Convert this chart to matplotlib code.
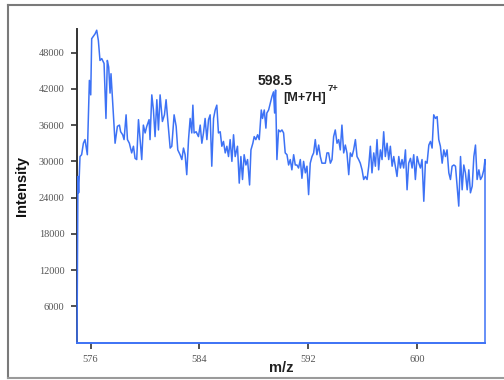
import matplotlib
matplotlib.use("Agg")
import matplotlib.pyplot as plt
from matplotlib.lines import Line2D

mz = [575.00, 575.07, 575.12, 575.22, 575.34, 575.47, 575.59, 575.76, 575.91, 576.01,
      576.08, 576.33, 576.45, 576.57, 576.69, 576.82, 576.99, 577.13, 577.23, 577.33,
      577.43, 577.50, 577.60, 577.80, 577.97, 578.12, 578.21, 578.36, 578.46, 578.61,
      578.71, 578.85, 579.02, 579.15, 579.27, 579.39, 579.52, 579.64, 579.76, 579.88,
      580.01, 580.13, 580.30, 580.37, 580.50, 580.62, 580.74, 580.87, 580.99, 581.11,
      581.28, 581.43, 581.55, 581.67, 581.85, 581.97, 582.14, 582.29, 582.41, 582.58,
      582.71, 582.83, 582.95, 583.07, 583.20, 583.32, 583.44, 583.52, 583.61, 583.76,
      583.93, 584.06, 584.18, 584.30, 584.42, 584.55, 584.67, 584.79, 584.91, 585.04,
      585.16, 585.28, 585.40, 585.53, 585.65, 585.77, 585.90, 586.02, 586.14, 586.26,
      586.39, 586.51, 586.63, 586.80, 586.93, 587.05, 587.17, 587.29, 587.42, 587.54,
      587.69, 587.79, 587.93, 588.03, 588.15, 588.28, 588.40, 588.55, 588.64, 588.77,
      588.89, 588.96, 589.09, 589.21, 589.33, 589.45, 589.53, 589.60, 589.70, 589.82,
      589.94, 590.07, 590.19, 590.31, 590.44, 590.56, 590.68, 590.80, 590.93, 591.05,
      591.17, 591.29, 591.42, 591.54, 591.66, 591.79, 591.91, 592.03, 592.15, 592.28,
      592.40, 592.52, 592.64, 592.77, 592.89, 593.01, 593.13, 593.26, 593.38, 593.50,
      593.63, 593.75, 593.87, 593.99, 594.12, 594.24, 594.36, 594.48, 594.61, 594.73,
      594.85, 594.98, 595.10, 595.22, 595.34, 595.47, 595.59, 595.71, 595.83, 595.96,
      596.08, 596.20, 596.33, 596.45, 596.57, 596.69, 596.82, 596.94, 597.06, 597.18,
      597.31, 597.43, 597.55, 597.67, 597.80, 597.92, 598.04, 598.17, 598.29, 598.41,
      598.53, 598.66, 598.78, 598.90, 599.02, 599.15, 599.27, 599.39, 599.52, 599.64,
      599.76, 599.88, 600.01, 600.13, 600.25, 600.37, 600.50, 600.62, 600.74, 600.87,
      600.99, 601.11, 601.23, 601.36, 601.48, 601.60, 601.72, 601.85, 601.97, 602.09,
      602.21, 602.34, 602.46, 602.58, 602.71, 602.83, 602.95, 603.07, 603.20, 603.32,
      603.44, 603.56, 603.69, 603.81, 603.93, 604.06, 604.18, 604.30, 604.42, 604.55,
      604.67, 604.79, 604.91, 605.00, 605.00]

intensity = [0, 27500, 24800, 30800, 31100, 33000, 33600, 31100, 43400, 41000,
             50300, 51100, 51700, 50000, 46700, 47000, 46200, 37100, 46700, 45600,
             41300, 44500, 40700, 33000, 35800, 36000, 34900, 34400, 33600, 37700,
             33600, 33000, 31400, 32500, 30500, 30300, 36900, 33600, 30300, 36000,
             34700, 35800, 36900, 33600, 41000, 38500, 34100, 40200, 35200, 41000,
             36600, 37700, 40200, 36900, 32200, 32500, 37700, 35800, 31900, 31100,
             30300, 32200, 31100, 27800, 33600, 37100, 34700, 39300, 34700, 34900,
             34100, 36000, 33000, 34700, 37100, 33600, 36900, 37700, 29200, 37100,
             38500, 39300, 34700, 34900, 32500, 33300, 31400, 32500, 30800, 33600,
             30000, 34400, 30800, 32500, 26400, 30800, 27000, 31100, 29400, 30300,
             26100, 31900, 33000, 34100, 33600, 34400, 33600, 38500, 37100, 38500,
             35500, 38000, 38500, 39600, 40700, 41500, 38000, 41800, 30300, 35200,
             34900, 35200, 34700, 31400, 31100, 29400, 30300, 28600, 31100, 29400,
             29400, 28900, 30300, 27200, 30000, 28100, 29200, 24500, 29700, 30800,
             31400, 33600, 31100, 32700, 30800, 29700, 29700, 29700, 31400, 31400,
             29700, 30300, 34100, 35200, 33000, 33600, 31900, 36000, 31400, 32700,
             31400, 27800, 31400, 30800, 31900, 33600, 30800, 30300, 29700, 28600,
             27000, 27500, 27000, 29200, 32500, 28100, 31400, 29200, 33600, 28600,
             31900, 30300, 34900, 30800, 33000, 30300, 32500, 29200, 30800, 29200,
             27500, 30800, 28900, 30300, 28900, 31900, 25300, 29700, 30500, 28900,
             31100, 27000, 30800, 29700, 28900, 30300, 23400, 30000, 29700, 32700,
             33300, 32200, 37700, 37100, 37400, 33600, 32500, 29700, 31900, 30800,
             31900, 28100, 27000, 29200, 29400, 29200, 25900, 22600, 30800, 25300,
             29400, 28100, 25300, 28600, 24800, 25900, 30800, 32700, 27000, 28600,
             27000, 27500, 28600, 30300, 0]

x_ticks = [576, 584, 592, 600]
y_ticks = [6000, 12000, 18000, 24000, 30000, 36000, 42000, 48000]
peak_label = "598.5"
ion_label = "[M+7H]"
charge_label = "7+"

W, H = 504, 380
fig = plt.figure(figsize=(W / 100, H / 100), dpi=100)
fig.patch.set_facecolor("white")

# outer frame (top, left, bottom visible)
fig.add_artist(Line2D([8 / W, 8 / W], [1 - 5 / H, 1 - 378 / H], transform=fig.transFigure,
                      color="#7a7a7a", lw=1.5))
fig.add_artist(Line2D([8 / W, 1.01], [1 - 5 / H, 1 - 5 / H], transform=fig.transFigure,
                      color="#7a7a7a", lw=1.5))
fig.add_artist(Line2D([8 / W, 1.01], [1 - 378 / H, 1 - 378 / H], transform=fig.transFigure,
                      color="#9a9a9a", lw=1.5))

ax = fig.add_axes([77 / W, 1 - 342.7 / H, (485 - 77) / W, (342.7 - 29) / H])
blue = "#3d72f5"
ax.plot(mz, intensity, color=blue, lw=1.1, clip_on=False, zorder=3)

ax.set_xlim(575, 605)
ax.set_ylim(0, 51900)
ax.set_xticks(x_ticks)
ax.set_yticks(y_ticks)
ax.set_xticklabels([str(v) for v in x_ticks])
ax.set_yticklabels([str(v) for v in y_ticks])

for s in ["top", "right"]:
    ax.spines[s].set_visible(False)
ax.spines["left"].set_color("#333333")
ax.spines["left"].set_linewidth(1.4)
ax.spines["bottom"].set_color(blue)
ax.spines["bottom"].set_linewidth(1.4)

ax.tick_params(axis="both", direction="out", length=4, width=1.2, color="#333333",
               labelsize=7.5, labelcolor="#555555", pad=5)
for lab in ax.get_xticklabels() + ax.get_yticklabels():
    lab.set_family("Liberation Serif")

ax.set_ylabel("Intensity", family="Liberation Sans", fontweight="bold", fontsize=10.5,
              color="#111111", labelpad=7)
ax.set_xlabel("m/z", family="Liberation Sans", fontweight="bold", fontsize=10.5,
              color="#222222", labelpad=-2)

ax.text(588.25, 43300, peak_label, family="Liberation Sans", fontweight="bold",
        fontsize=10, color="#222222", ha="left", va="center")
ax.text(590.17, 40500, ion_label, family="Liberation Sans", fontweight="bold",
        fontsize=9.2, color="#222222", ha="left", va="center")
ax.text(593.45, 42000, charge_label, family="Liberation Sans", fontweight="bold",
        fontsize=6.8, color="#222222", ha="left", va="center")

fig.savefig("out.png", dpi=100)
